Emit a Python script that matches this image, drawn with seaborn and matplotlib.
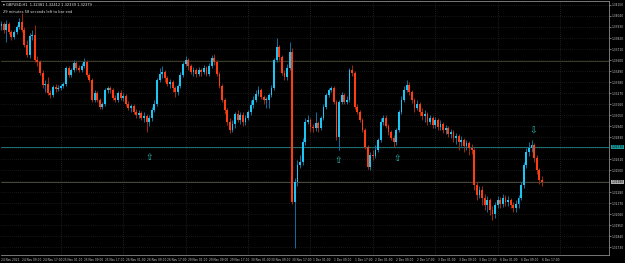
import numpy as np
import pandas as pd
import matplotlib
matplotlib.use("Agg")
import matplotlib.pyplot as plt
import seaborn as sns

# ---------------- data (hourly OHLC, open = previous close) ----------------
first_open = 1.3392
closes = [
    1.3394, 1.3396, 1.3390, 1.3396, 1.3388, 1.3383, 1.3388, 1.3393, 1.3398, 1.3390,
    1.3375, 1.3365, 1.3384, 1.3385, 1.3360, 1.3358, 1.3347, 1.3335, 1.3336, 1.3327,
    1.3325, 1.3333, 1.3331, 1.3332, 1.3334, 1.3336, 1.3352, 1.3345, 1.3350, 1.3357,
    1.3352, 1.3350, 1.3354, 1.3358, 1.3345, 1.3340, 1.3320, 1.3327, 1.3320, 1.3313,
    1.3316, 1.3330, 1.3332, 1.3330, 1.3322, 1.3320, 1.3327, 1.3322, 1.3324, 1.3316,
    1.3312, 1.3314, 1.3308, 1.3305, 1.3307, 1.3302, 1.3304, 1.3298, 1.3302, 1.3310,
    1.3316, 1.3340, 1.3346, 1.3348, 1.3342, 1.3336, 1.3338, 1.3332, 1.3328, 1.3334,
    1.3345, 1.3356, 1.3360, 1.3354, 1.3348, 1.3350, 1.3346, 1.3350, 1.3348, 1.3352,
    1.3346, 1.3354, 1.3362, 1.3358, 1.3346, 1.3334, 1.3320, 1.3310, 1.3298, 1.3290,
    1.3296, 1.3306, 1.3300, 1.3305, 1.3298, 1.3302, 1.3308, 1.3315, 1.3320, 1.3326,
    1.3330, 1.3323, 1.3320, 1.3320, 1.3325, 1.3332, 1.3360, 1.3373, 1.3363, 1.3347,
    1.3343, 1.3352, 1.3368, 1.3218, 1.3238, 1.3255, 1.3258, 1.3278, 1.3298, 1.3300,
    1.3293, 1.3292, 1.3297, 1.3292, 1.3302, 1.3313, 1.3325, 1.3330, 1.3332, 1.3318,
    1.3283, 1.3318, 1.3325, 1.3318, 1.3320, 1.3350, 1.3347, 1.3313, 1.3308, 1.3300,
    1.3290, 1.3273, 1.3253, 1.3265, 1.3264, 1.3270, 1.3280, 1.3298, 1.3302, 1.3294,
    1.3288, 1.3282, 1.3278, 1.3290, 1.3308, 1.3320, 1.3330, 1.3335, 1.3328, 1.3320,
    1.3312, 1.3316, 1.3308, 1.3304, 1.3306, 1.3298, 1.3302, 1.3295, 1.3300, 1.3293,
    1.3296, 1.3290, 1.3292, 1.3286, 1.3288, 1.3282, 1.3284, 1.3278, 1.3280, 1.3274,
    1.3277, 1.3272, 1.3270, 1.3235, 1.3225, 1.3230, 1.3222, 1.3215, 1.3220, 1.3210,
    1.3206, 1.3215, 1.3220, 1.3216, 1.3222, 1.3218, 1.3220, 1.3215, 1.3212, 1.3216,
    1.3222, 1.3235, 1.3255, 1.3268, 1.3272, 1.3275, 1.3262, 1.3250, 1.3240, 1.3238,
]
highs = [
    1.3398, 1.3399, 1.3398, 1.3400, 1.3398, 1.3390, 1.3390, 1.3395, 1.3402, 1.3407,
    1.3393, 1.3380, 1.3387, 1.3390, 1.3395, 1.3364, 1.3360, 1.3350, 1.3340, 1.3343,
    1.3330, 1.3335, 1.3336, 1.3335, 1.3336, 1.3338, 1.3354, 1.3354, 1.3352, 1.3360,
    1.3359, 1.3355, 1.3357, 1.3362, 1.3360, 1.3347, 1.3342, 1.3330, 1.3329, 1.3322,
    1.3318, 1.3332, 1.3334, 1.3334, 1.3332, 1.3325, 1.3329, 1.3330, 1.3327, 1.3326,
    1.3319, 1.3316, 1.3316, 1.3311, 1.3310, 1.3309, 1.3308, 1.3306, 1.3305, 1.3313,
    1.3320, 1.3342, 1.3352, 1.3354, 1.3350, 1.3344, 1.3341, 1.3340, 1.3334, 1.3336,
    1.3348, 1.3358, 1.3364, 1.3362, 1.3356, 1.3353, 1.3352, 1.3353, 1.3352, 1.3355,
    1.3354, 1.3357, 1.3365, 1.3366, 1.3360, 1.3348, 1.3336, 1.3322, 1.3312, 1.3302,
    1.3300, 1.3308, 1.3310, 1.3308, 1.3308, 1.3305, 1.3310, 1.3320, 1.3324, 1.3330,
    1.3334, 1.3332, 1.3325, 1.3323, 1.3327, 1.3335, 1.3362, 1.3382, 1.3375, 1.3365,
    1.3350, 1.3356, 1.3378, 1.3372, 1.3242, 1.3260, 1.3265, 1.3282, 1.3302, 1.3305,
    1.3302, 1.3296, 1.3308, 1.3299, 1.3304, 1.3316, 1.3327, 1.3332, 1.3334, 1.3334,
    1.3320, 1.3320, 1.3328, 1.3327, 1.3324, 1.3352, 1.3355, 1.3349, 1.3316, 1.3310,
    1.3302, 1.3292, 1.3275, 1.3268, 1.3270, 1.3275, 1.3282, 1.3302, 1.3305, 1.3305,
    1.3296, 1.3290, 1.3285, 1.3292, 1.3310, 1.3324, 1.3334, 1.3340, 1.3338, 1.3330,
    1.3322, 1.3320, 1.3318, 1.3312, 1.3310, 1.3308, 1.3305, 1.3304, 1.3303, 1.3302,
    1.3300, 1.3298, 1.3295, 1.3294, 1.3291, 1.3290, 1.3287, 1.3286, 1.3284, 1.3282,
    1.3280, 1.3279, 1.3276, 1.3272, 1.3238, 1.3234, 1.3234, 1.3226, 1.3224, 1.3222,
    1.3214, 1.3218, 1.3224, 1.3223, 1.3226, 1.3225, 1.3224, 1.3222, 1.3218, 1.3220,
    1.3225, 1.3238, 1.3258, 1.3272, 1.3278, 1.3280, 1.3277, 1.3265, 1.3252, 1.3244,
]
lows = [
    1.3389, 1.3390, 1.3387, 1.3378, 1.3386, 1.3380, 1.3381, 1.3386, 1.3391, 1.3388,
    1.3373, 1.3363, 1.3362, 1.3380, 1.3358, 1.3354, 1.3345, 1.3332, 1.3328, 1.3325,
    1.3322, 1.3323, 1.3328, 1.3329, 1.3330, 1.3332, 1.3334, 1.3343, 1.3343, 1.3348,
    1.3350, 1.3348, 1.3348, 1.3352, 1.3343, 1.3338, 1.3318, 1.3318, 1.3318, 1.3311,
    1.3311, 1.3314, 1.3327, 1.3327, 1.3320, 1.3318, 1.3318, 1.3320, 1.3319, 1.3314,
    1.3310, 1.3308, 1.3306, 1.3302, 1.3302, 1.3300, 1.3298, 1.3288, 1.3294, 1.3299,
    1.3308, 1.3314, 1.3338, 1.3342, 1.3338, 1.3334, 1.3332, 1.3328, 1.3323, 1.3325,
    1.3332, 1.3343, 1.3354, 1.3350, 1.3346, 1.3344, 1.3343, 1.3344, 1.3344, 1.3346,
    1.3344, 1.3344, 1.3352, 1.3355, 1.3344, 1.3332, 1.3318, 1.3306, 1.3295, 1.3287,
    1.3288, 1.3292, 1.3298, 1.3296, 1.3294, 1.3295, 1.3300, 1.3305, 1.3312, 1.3318,
    1.3324, 1.3321, 1.3316, 1.3312, 1.3312, 1.3323, 1.3330, 1.3358, 1.3360, 1.3345,
    1.3340, 1.3340, 1.3350, 1.3216, 1.3172, 1.3234, 1.3252, 1.3255, 1.3275, 1.3296,
    1.3288, 1.3288, 1.3289, 1.3288, 1.3290, 1.3300, 1.3311, 1.3323, 1.3328, 1.3316,
    1.3280, 1.3270, 1.3316, 1.3316, 1.3316, 1.3318, 1.3344, 1.3311, 1.3306, 1.3298,
    1.3288, 1.3271, 1.3251, 1.3250, 1.3260, 1.3262, 1.3268, 1.3278, 1.3295, 1.3292,
    1.3285, 1.3280, 1.3273, 1.3275, 1.3288, 1.3306, 1.3318, 1.3328, 1.3325, 1.3317,
    1.3308, 1.3310, 1.3304, 1.3300, 1.3298, 1.3295, 1.3296, 1.3292, 1.3292, 1.3290,
    1.3290, 1.3287, 1.3286, 1.3283, 1.3282, 1.3278, 1.3276, 1.3270, 1.3274, 1.3268,
    1.3270, 1.3265, 1.3266, 1.3230, 1.3220, 1.3222, 1.3215, 1.3210, 1.3208, 1.3205,
    1.3200, 1.3202, 1.3212, 1.3212, 1.3213, 1.3214, 1.3214, 1.3212, 1.3208, 1.3208,
    1.3212, 1.3220, 1.3232, 1.3252, 1.3264, 1.3268, 1.3258, 1.3246, 1.3236, 1.3234,
]

ytick_values = [1.34150, 1.34040, 1.33930, 1.33820, 1.33710, 1.33600, 1.33490, 1.33380,
                1.33270, 1.33160, 1.33050, 1.32940, 1.32830, 1.32610, 1.32500,
                1.32280, 1.32170, 1.32060, 1.31950, 1.31840, 1.31730]
xtick_bars = [1, 9, 17, 25, 33, 41, 49, 57, 65, 73, 81, 89, 97, 105, 113, 121, 129,
              137, 145, 153, 161, 169, 177, 185, 193, 201, 209]
xtick_labels = ["24 Nov 2021", "24 Nov 09:00", "24 Nov 17:00", "25 Nov 01:00", "25 Nov 09:00",
                "25 Nov 17:00", "26 Nov 01:00", "26 Nov 09:00", "26 Nov 17:00", "29 Nov 01:00",
                "29 Nov 09:00", "29 Nov 17:00", "30 Nov 01:00", "30 Nov 09:00", "30 Nov 17:00",
                "1 Dec 01:00", "1 Dec 09:00", "1 Dec 17:00", "2 Dec 01:00", "2 Dec 09:00",
                "2 Dec 17:00", "3 Dec 01:00", "3 Dec 09:00", "3 Dec 17:00", "6 Dec 01:00",
                "6 Dec 09:00", "6 Dec 17:00"]
day_starts = [24, 48, 72, 96, 120, 144, 168, 192, 216]

level_teal = 1.32730
level_olive = 1.33590
arrow_bars = [57.8, 130.6, 153.2, 205.7]
arrow_prices = [1.3263, 1.3260, 1.3262, 1.3289]
arrow_up = [True, True, True, False]
title_line1 = "\u25be GBPUSD,H1  1.32381 1.32412 1.32339 1.32379"
title_line2 = "29 minutes 58 seconds left to bar end"

# ---------------- build frame ----------------
c = np.array(closes)
o = np.r_[first_open, c[:-1]]
df = pd.DataFrame({"bar": np.arange(len(c)), "open": o, "close": c,
                   "high": np.array(highs), "low": np.array(lows)})
df["bull"] = df["close"] >= df["open"]

sns.set_theme(style="dark", rc={"axes.facecolor": "black", "figure.facecolor": "black"})
plt.rcParams["font.family"] = ["DejaVu Sans"]

fig = plt.figure(figsize=(6.25, 2.63), dpi=100)
ax = fig.add_axes([0.0016, 0.0304, 0.9728, 0.9658])
ax.set_facecolor("black")

BULL, BEAR = "#1cc6f4", "#ff3d12"
BULL_W, BEAR_W = "#1070a0", "#a02a0c"

# grid
for y in ytick_values + [1.32720, 1.32390]:
    ax.axhline(y, color="#2e2e2e", lw=0.5, ls=(0, (1, 2)), zorder=0)
for d in day_starts:
    ax.axvline(d, color="#3a3a3a", lw=0.5, ls=(0, (1, 2)), zorder=0)

# level lines
ax.axhline(level_teal, color="#1a7373", lw=0.7, zorder=1)
ax.axhline(level_olive, color="#3c3c28", lw=0.7, zorder=1)
ax.axhline(closes[-1], color="#4a4a38", lw=0.7, zorder=1)

# candles
for bull, col, wcol in [(True, BULL, BULL_W), (False, BEAR, BEAR_W)]:
    sub = df[df["bull"] == bull]
    ax.vlines(sub["bar"], sub["low"], sub["high"], color=wcol, lw=0.7, zorder=2)
    h = (sub["close"] - sub["open"]).abs().clip(lower=0.00008)
    ax.bar(sub["bar"], h, bottom=np.minimum(sub["open"], sub["close"]),
           width=0.72, color=col, linewidth=0, zorder=3)

# arrows
for xb, yp, up in zip(arrow_bars, arrow_prices, arrow_up):
    ax.text(xb, yp, "\u21e7" if up else "\u21e9", color="#2fc0b4", fontsize=6.5,
            ha="center", va="center", zorder=4)

ax.set_xlim(1.07, 234.8)
ax.set_ylim(1.3165, 1.3419)

# axes styling
ax.spines["left"].set_visible(False)
for s in ["right", "bottom", "top"]:
    ax.spines[s].set_color("#8a8a8a")
    ax.spines[s].set_linewidth(0.6)
ax.yaxis.tick_right()
ax.set_yticks(ytick_values)
ax.set_yticklabels([f"{v:.5f}" for v in ytick_values])
ax.set_xticks(xtick_bars)
ax.set_xticklabels(xtick_labels, ha="left")
ax.tick_params(axis="y", colors="#c8c8c8", labelsize=2.1, length=1.2, width=0.4, pad=0.6)
ax.tick_params(axis="x", colors="#c8c8c8", labelsize=2.1, length=1.2, width=0.4, pad=0.8)
ax.grid(False)

# price tags
ax.text(1.004, level_teal, f"{level_teal:.5f}", transform=ax.get_yaxis_transform(),
        fontsize=2.1, color="black", va="center", ha="left",
        bbox=dict(boxstyle="square,pad=0.15", fc="#1a9a9a", ec="none"), clip_on=False)
ax.text(1.004, closes[-1], f"{closes[-1]:.5f}", transform=ax.get_yaxis_transform(),
        fontsize=2.1, color="black", va="center", ha="left",
        bbox=dict(boxstyle="square,pad=0.15", fc="#b0b0b0", ec="none"), clip_on=False)

# header text
ax.text(0.004, 0.992, title_line1, transform=ax.transAxes, fontsize=2.6, color="#e0e0e0",
        va="top", ha="left")
ax.text(0.004, 0.964, title_line2, transform=ax.transAxes, fontsize=2.6, color="#e0e0e0",
        va="top", ha="left")

fig.savefig("out.png", dpi=100, facecolor="black")
